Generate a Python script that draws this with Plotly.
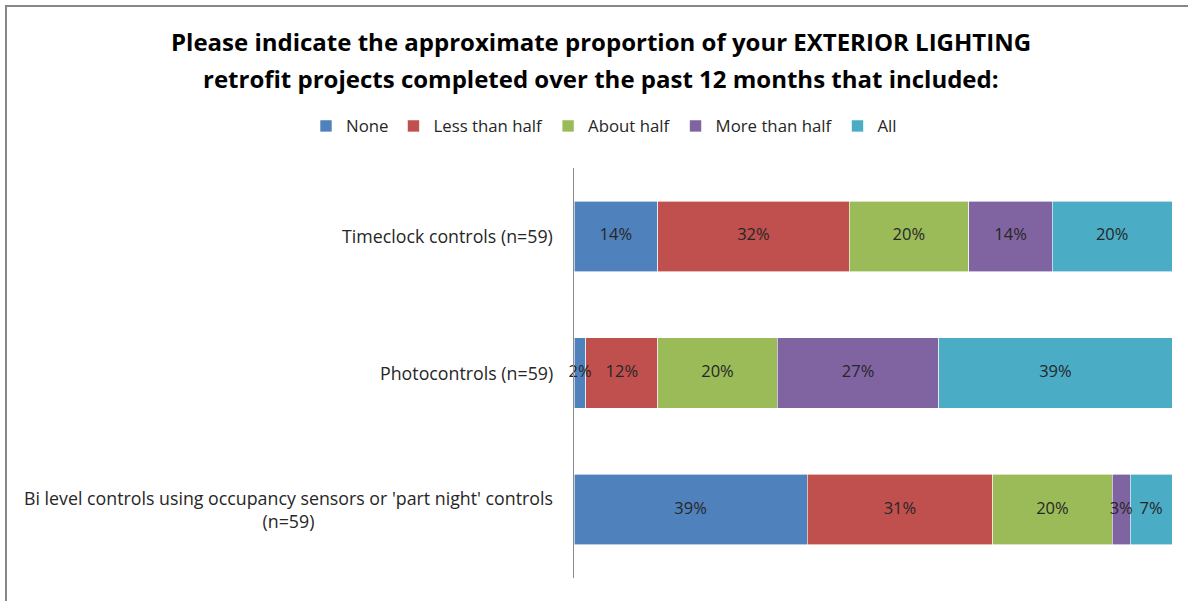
import plotly.graph_objects as go

# Survey categories (top to bottom) and response shares in percent
categories = [
    "Timeclock controls (n=59)",
    "Photocontrols (n=59)",
    "Bi level controls using occupancy sensors or 'part night' controls<br>(n=59)",
]
series_names = ["None", "Less than half", "About half", "More than half", "All"]
none_vals = [14, 2, 39]
less_half_vals = [32, 12, 31]
about_half_vals = [20, 20, 20]
more_half_vals = [14, 27, 3]
all_vals = [20, 39, 7]

series_values = [none_vals, less_half_vals, about_half_vals, more_half_vals, all_vals]
colors = ["#4F81BD", "#C0504D", "#9BBB59", "#8064A2", "#4BACC6"]

title_lines = [
    "Please indicate the approximate proportion of your EXTERIOR LIGHTING",
    "retrofit projects completed over the past 12 months that included:",
]

FONT = "Open Sans"
TEXT_COLOR = "#262626"
W, H = 1188, 601
ML, MR, MT, MB = 574, 16, 168, 23

fig = go.Figure()
for name, vals, col in zip(series_names, series_values, colors):
    fig.add_trace(go.Bar(
        y=categories,
        x=vals,
        name=name,
        orientation="h",
        marker=dict(color=col, line=dict(color="white", width=0.6)),
        hoverinfo="name+x",
    ))

# Value labels drawn on top of all segments, centred in each segment
label_x, label_y, label_text = [], [], []
for ci, cat in enumerate(categories):
    start = 0
    for vals in series_values:
        v = vals[ci]
        label_x.append(start + v / 2)
        label_y.append(cat)
        label_text.append(f"{v}%")
        start += v
fig.add_trace(go.Scatter(
    x=label_x,
    y=label_y,
    mode="text",
    text=label_text,
    textposition="middle center",
    textfont=dict(family=FONT, size=16.5, color=TEXT_COLOR),
    showlegend=False,
    hoverinfo="skip",
    cliponaxis=False,
))

pw = W - ML - MR
ph = H - MT - MB


def px_to_paper_x(px):
    return (px - ML) / pw


def px_to_paper_y(py):
    return (H - MB - py) / ph


# Category labels: right-aligned block, lines centred within the block
annotations = [
    dict(
        x=0,
        xref="paper",
        y=cat,
        yref="y",
        text=cat,
        xanchor="right",
        yanchor="middle",
        align="center",
        showarrow=False,
        xshift=-19,
        font=dict(family=FONT, size=17.8, color=TEXT_COLOR),
    )
    for cat in categories
]

# Two-line bold heading
for line, ypx in zip(title_lines, [42, 78]):
    annotations.append(dict(
        x=px_to_paper_x(601),
        xref="paper",
        y=px_to_paper_y(ypx),
        yref="paper",
        text=f"<b>{line}</b>",
        xanchor="center",
        yanchor="middle",
        showarrow=False,
        font=dict(family=FONT, size=24, color="#000000"),
    ))

frame = dict(color="#878787", width=2)

fig.update_layout(
    width=W,
    height=H,
    barmode="stack",
    bargap=0.485,
    paper_bgcolor="white",
    plot_bgcolor="white",
    margin=dict(l=ML, r=MR, t=MT, b=MB, autoexpand=False),
    font=dict(family=FONT, color=TEXT_COLOR),
    legend=dict(
        orientation="h",
        xref="paper",
        yref="paper",
        x=px_to_paper_x(306),
        xanchor="left",
        y=px_to_paper_y(126),
        yanchor="middle",
        font=dict(family=FONT, size=16.8, color=TEXT_COLOR),
        itemwidth=30,
        traceorder="normal",
    ),
    xaxis=dict(
        range=[0, 100],
        showgrid=False,
        zeroline=False,
        showticklabels=False,
        showline=False,
        fixedrange=True,
    ),
    yaxis=dict(
        autorange="reversed",
        showgrid=False,
        zeroline=False,
        showline=True,
        linecolor="#8C8C8C",
        linewidth=1,
        ticks="",
        showticklabels=False,
    ),
    annotations=annotations,
    showlegend=True,
    shapes=[
        # outer chart frame: top and left edges
        dict(type="line", xref="paper", yref="paper",
             x0=px_to_paper_x(5), x1=px_to_paper_x(W + 300),
             y0=px_to_paper_y(6), y1=px_to_paper_y(6), line=frame),
        dict(type="line", xref="paper", yref="paper",
             x0=px_to_paper_x(6), x1=px_to_paper_x(6),
             y0=px_to_paper_y(5), y1=px_to_paper_y(H + 300), line=frame),
    ],
)

fig.write_html("out.html")
